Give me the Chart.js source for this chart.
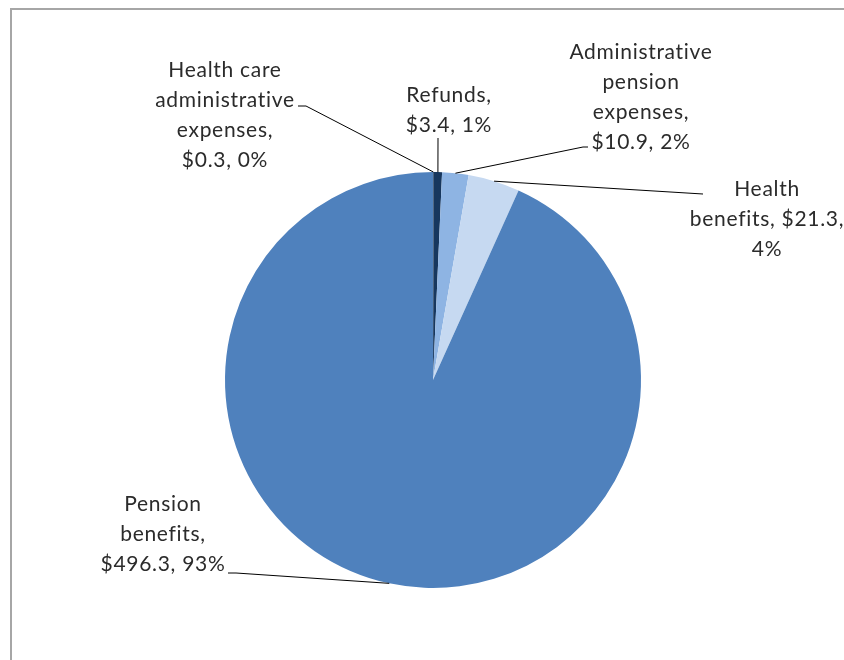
<!DOCTYPE html>
<html>
<head>
<meta charset="utf-8">
<script src="https://cdn.jsdelivr.net/npm/chart.js@4"></script>
<style>
body{margin:0;background:#fff;}
</style>
</head>
<body>
<canvas id="grafico" width="844" height="660"></canvas>
<script>
let categorias = ['Health care administrative expenses', 'Refunds', 'Administrative pension expenses', 'Health benefits', 'Pension benefits'];
let montos = [0.3, 3.4, 10.9, 21.3, 496.3];
let colores = ['#254061', '#17375E', '#8EB4E3', '#C6D9F1', '#4F81BD'];

// palabras por renglon de cada etiqueta
let renglones = [[2,1,1,2], [1,2], [1,1,1,2], [1,2,1], [1,1,2]];
// posicion del texto (centro, primera linea) y puntos de la guia, relativos al centro del pastel
let posTexto = [[-208,-303], [16,-278], [208,-321], [334,-184], [-270,131]];
let guias = [
  [[-127,-274], [-135,-274]],
  [[5,-242]],
  [[150,-233], [155,-233]],
  [[270,-186]],
  [[-197,193], [-205,193]]
];

let etiquetas = {
  id: 'etiquetas',
  beforeDraw(chart){
    let ctx = chart.ctx;
    ctx.save();
    ctx.strokeStyle = '#a6a6a6';
    ctx.lineWidth = 2;
    ctx.strokeRect(11, 9, 1000, 1000);
    ctx.restore();
  },
  afterDraw(chart){
    let ctx = chart.ctx;
    let arcos = chart.getDatasetMeta(0).data;
    let total = montos.reduce((a, b) => a + b, 0);
    ctx.save();
    arcos.forEach((arco, i) => {
      let p = arco.getProps(['x','y','startAngle','endAngle','outerRadius'], true);
      let medio = (p.startAngle + p.endAngle) / 2;
      let x0 = p.x + Math.cos(medio) * p.outerRadius;
      let y0 = p.y + Math.sin(medio) * p.outerRadius;

      ctx.strokeStyle = '#000';
      ctx.lineWidth = 1;
      ctx.beginPath();
      ctx.moveTo(x0, y0);
      guias[i].forEach(g => ctx.lineTo(p.x + g[0], p.y + g[1]));
      ctx.stroke();

      let pct = Math.round(montos[i] / total * 100);
      let palabras = `${categorias[i]}, $${montos[i].toFixed(1)}, ${pct}%`.split(' ');
      let lineas = [];
      renglones[i].forEach(n => lineas.push(palabras.splice(0, n).join(' ')));

      ctx.fillStyle = '#2b2b2b';
      ctx.font = '21px Lato';
      ctx.letterSpacing = '0.7px';
      ctx.textAlign = 'center';
      ctx.textBaseline = 'alphabetic';
      lineas.forEach((l, k) => ctx.fillText(l, p.x + posTexto[i][0], p.y + posTexto[i][1] + k * 30));
    });
    ctx.restore();
  }
};

let ctx = document.getElementById('grafico').getContext('2d');
let chart = new Chart(ctx, {
  type: 'pie',
  data: {
    labels: categorias,
    datasets: [{
      data: montos,
      backgroundColor: colores,
      borderWidth: 0
    }]
  },
  options: {
    responsive: false,
    animation: false,
    layout: {
      padding: { left: 225, right: 203, top: 172, bottom: 72 }
    },
    plugins: {
      legend: { display: false },
      tooltip: { enabled: false }
    }
  },
  plugins: [etiquetas]
});
</script>
</body>
</html>
